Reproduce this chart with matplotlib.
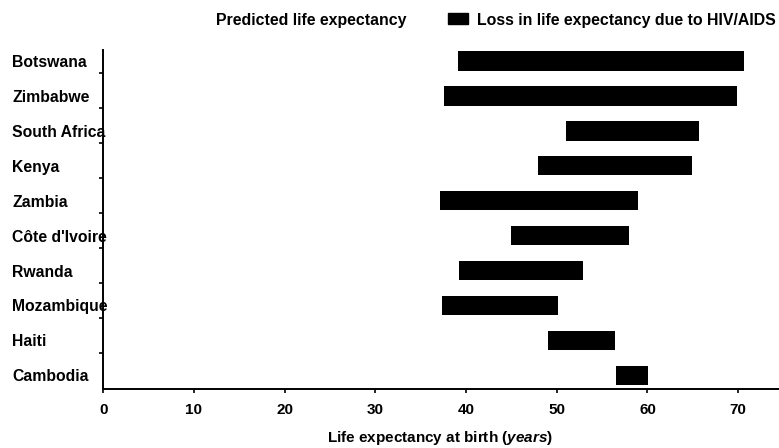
import numpy as np
import matplotlib
matplotlib.use("Agg")
import matplotlib.pyplot as plt
from matplotlib.patches import Patch

plt.rcParams["font.family"] = ["Liberation Sans", "DejaVu Sans"]
plt.rcParams["font.weight"] = "bold"
plt.rcParams["axes.labelweight"] = "bold"
plt.rcParams["font.size"] = 11
plt.rcParams["mathtext.fontset"] = "custom"
plt.rcParams["mathtext.rm"] = "Liberation Sans:bold"
plt.rcParams["mathtext.it"] = "Liberation Sans:italic:bold"

# data (years)
countries = ["Botswana", "Zimbabwe", "South Africa", "Kenya", "Zambia",
             "Côte d'Ivoire", "Rwanda", "Mozambique", "Haiti", "Cambodia"]
with_aids = [39.1, 37.6, 51.0, 47.9, 37.1, 45.0, 39.2, 37.3, 49.0, 56.5]
predicted = [70.6, 69.9, 65.7, 64.9, 58.9, 58.0, 52.9, 50.1, 56.4, 60.1]
xticks = [0, 10, 20, 30, 40, 50, 60, 70]

W, H = 779, 448
fig = plt.figure(figsize=(W / 100, H / 100), dpi=100)
# axes box in pixels: left 103, right 779, top 50, bottom 389
ax = fig.add_axes([103.3 / W, 1 - 389 / H, (W - 103.3) / W, (389 - 50) / H])

y = np.arange(len(countries))
loss = np.array(predicted) - np.array(with_aids)
ax.barh(y, loss, left=with_aids, height=0.56, color="black")

ax.set_xlim(0, 74.5)
ax.set_ylim(9.39, -0.31)

for s in ["top", "right"]:
    ax.spines[s].set_visible(False)
for s in ["left", "bottom"]:
    ax.spines[s].set_linewidth(1.4)

ax.set_xticks(xticks)
ax.tick_params(axis="x", length=3, width=1.2, pad=7, labelsize=11)

ax.set_yticks(y)
ax.set_yticklabels(countries)
ax.set_yticks(np.arange(9) + 0.35, minor=True)
ax.tick_params(axis="y", which="major", length=0, pad=65.5, labelsize=11.3)
ax.tick_params(axis="y", which="minor", length=3, width=1.2)
for lab in ax.get_yticklabels():
    lab.set_horizontalalignment("left")

ax.set_xlabel(r"Life expectancy at birth ($\mathit{years}$)", fontsize=11,
              fontweight="bold")
ax.xaxis.set_label_coords(0.498, -0.118)

handles = [Patch(facecolor="white", edgecolor="none"),
           Patch(facecolor="black", edgecolor="black")]
fig.legend(handles, ["Predicted life expectancy",
                     "Loss in life expectancy due to HIV/AIDS"],
           loc="center left", bbox_to_anchor=(187 / W, 1 - 20 / H),
           ncol=2, frameon=False, borderpad=0, borderaxespad=0,
           handlelength=1.25, handleheight=0.7, handletextpad=0.6,
           columnspacing=2.6, fontsize=11.4)

fig.savefig("out.png", dpi=100)
